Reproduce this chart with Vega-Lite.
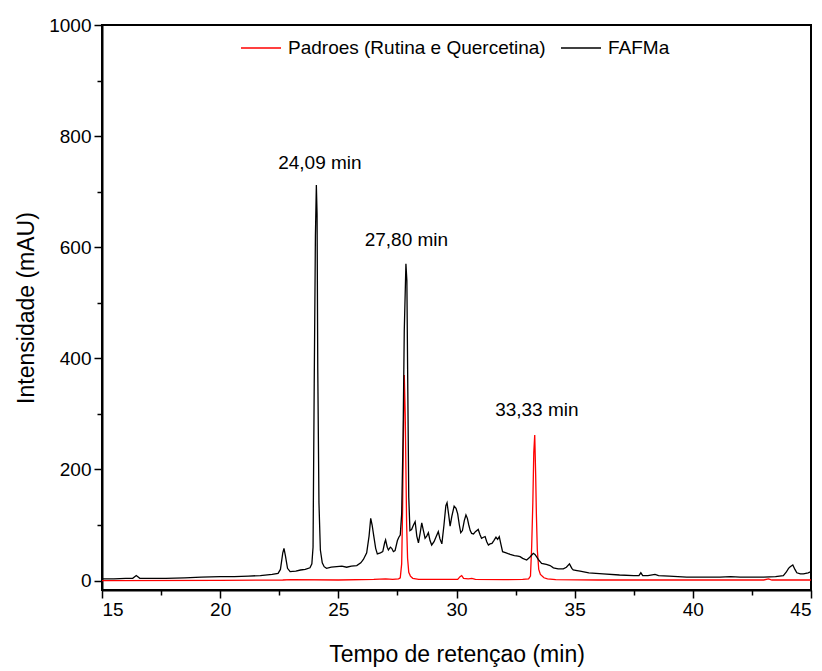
{
  "$schema": "https://vega.github.io/schema/vega-lite/v6.json",
  "width": 709,
  "height": 565,
  "autosize": "none",
  "padding": {"left": 102, "top": 25, "right": 11, "bottom": 81},
  "background": "white",
  "config": {
    "font": "Liberation Sans",
    "view": {"stroke": "#000000", "strokeWidth": 2},
    "axis": {"grid": false, "domainColor": "#000000", "tickColor": "#000000", "labelColor": "#000000", "titleColor": "#000000", "labelFont": "Liberation Sans", "titleFont": "Liberation Sans", "titleFontWeight": "normal"}
  },
  "datasets": {
    "padroes": [
      {"t": 15.0, "v": 0, "s": "Padroes (Rutina e Quercetina)"},
      {"t": 20.0, "v": 0.5, "s": "Padroes (Rutina e Quercetina)"},
      {"t": 22.65, "v": 1, "s": "Padroes (Rutina e Quercetina)"},
      {"t": 23.0, "v": 1.5, "s": "Padroes (Rutina e Quercetina)"},
      {"t": 25.0, "v": 1, "s": "Padroes (Rutina e Quercetina)"},
      {"t": 26.5, "v": 2, "s": "Padroes (Rutina e Quercetina)"},
      {"t": 27.0, "v": 3, "s": "Padroes (Rutina e Quercetina)"},
      {"t": 27.3, "v": 2, "s": "Padroes (Rutina e Quercetina)"},
      {"t": 27.55, "v": 3, "s": "Padroes (Rutina e Quercetina)"},
      {"t": 27.62, "v": 5, "s": "Padroes (Rutina e Quercetina)"},
      {"t": 27.68, "v": 30, "s": "Padroes (Rutina e Quercetina)"},
      {"t": 27.72, "v": 130, "s": "Padroes (Rutina e Quercetina)"},
      {"t": 27.75, "v": 250, "s": "Padroes (Rutina e Quercetina)"},
      {"t": 27.79, "v": 370, "s": "Padroes (Rutina e Quercetina)"},
      {"t": 27.83, "v": 300, "s": "Padroes (Rutina e Quercetina)"},
      {"t": 27.86, "v": 200, "s": "Padroes (Rutina e Quercetina)"},
      {"t": 27.89, "v": 100, "s": "Padroes (Rutina e Quercetina)"},
      {"t": 27.93, "v": 40, "s": "Padroes (Rutina e Quercetina)"},
      {"t": 27.98, "v": 15, "s": "Padroes (Rutina e Quercetina)"},
      {"t": 28.05, "v": 8, "s": "Padroes (Rutina e Quercetina)"},
      {"t": 28.15, "v": 4, "s": "Padroes (Rutina e Quercetina)"},
      {"t": 28.4, "v": 2, "s": "Padroes (Rutina e Quercetina)"},
      {"t": 29.5, "v": 2, "s": "Padroes (Rutina e Quercetina)"},
      {"t": 30.05, "v": 2, "s": "Padroes (Rutina e Quercetina)"},
      {"t": 30.15, "v": 7, "s": "Padroes (Rutina e Quercetina)"},
      {"t": 30.22, "v": 9, "s": "Padroes (Rutina e Quercetina)"},
      {"t": 30.3, "v": 4, "s": "Padroes (Rutina e Quercetina)"},
      {"t": 30.5, "v": 3, "s": "Padroes (Rutina e Quercetina)"},
      {"t": 30.65, "v": 4, "s": "Padroes (Rutina e Quercetina)"},
      {"t": 30.8, "v": 2, "s": "Padroes (Rutina e Quercetina)"},
      {"t": 32.0, "v": 1.5, "s": "Padroes (Rutina e Quercetina)"},
      {"t": 32.8, "v": 2, "s": "Padroes (Rutina e Quercetina)"},
      {"t": 33.05, "v": 3, "s": "Padroes (Rutina e Quercetina)"},
      {"t": 33.13, "v": 8, "s": "Padroes (Rutina e Quercetina)"},
      {"t": 33.18, "v": 60, "s": "Padroes (Rutina e Quercetina)"},
      {"t": 33.23, "v": 140, "s": "Padroes (Rutina e Quercetina)"},
      {"t": 33.27, "v": 230, "s": "Padroes (Rutina e Quercetina)"},
      {"t": 33.31, "v": 262, "s": "Padroes (Rutina e Quercetina)"},
      {"t": 33.35, "v": 190, "s": "Padroes (Rutina e Quercetina)"},
      {"t": 33.38, "v": 120, "s": "Padroes (Rutina e Quercetina)"},
      {"t": 33.42, "v": 55, "s": "Padroes (Rutina e Quercetina)"},
      {"t": 33.48, "v": 20, "s": "Padroes (Rutina e Quercetina)"},
      {"t": 33.55, "v": 11, "s": "Padroes (Rutina e Quercetina)"},
      {"t": 33.7, "v": 5, "s": "Padroes (Rutina e Quercetina)"},
      {"t": 33.85, "v": 3, "s": "Padroes (Rutina e Quercetina)"},
      {"t": 34.2, "v": 1.5, "s": "Padroes (Rutina e Quercetina)"},
      {"t": 36.0, "v": 1, "s": "Padroes (Rutina e Quercetina)"},
      {"t": 40.0, "v": 1, "s": "Padroes (Rutina e Quercetina)"},
      {"t": 43.0, "v": 1, "s": "Padroes (Rutina e Quercetina)"},
      {"t": 43.2, "v": 3, "s": "Padroes (Rutina e Quercetina)"},
      {"t": 43.35, "v": 1, "s": "Padroes (Rutina e Quercetina)"},
      {"t": 45.0, "v": 1, "s": "Padroes (Rutina e Quercetina)"}
    ],
    "fafma": [
      {"t": 15.0, "v": 3, "s": "FAFMa"},
      {"t": 15.5, "v": 3, "s": "FAFMa"},
      {"t": 16.0, "v": 4, "s": "FAFMa"},
      {"t": 16.3, "v": 4, "s": "FAFMa"},
      {"t": 16.45, "v": 9, "s": "FAFMa"},
      {"t": 16.6, "v": 4, "s": "FAFMa"},
      {"t": 17.0, "v": 4, "s": "FAFMa"},
      {"t": 17.7, "v": 4, "s": "FAFMa"},
      {"t": 18.5, "v": 5, "s": "FAFMa"},
      {"t": 19.2, "v": 6, "s": "FAFMa"},
      {"t": 20.0, "v": 7, "s": "FAFMa"},
      {"t": 20.6, "v": 7, "s": "FAFMa"},
      {"t": 21.2, "v": 8, "s": "FAFMa"},
      {"t": 21.7, "v": 9, "s": "FAFMa"},
      {"t": 22.2, "v": 11, "s": "FAFMa"},
      {"t": 22.45, "v": 13, "s": "FAFMa"},
      {"t": 22.55, "v": 20, "s": "FAFMa"},
      {"t": 22.65, "v": 50, "s": "FAFMa"},
      {"t": 22.7, "v": 58, "s": "FAFMa"},
      {"t": 22.76, "v": 45, "s": "FAFMa"},
      {"t": 22.85, "v": 22, "s": "FAFMa"},
      {"t": 22.96, "v": 16, "s": "FAFMa"},
      {"t": 23.2, "v": 17, "s": "FAFMa"},
      {"t": 23.4, "v": 19, "s": "FAFMa"},
      {"t": 23.6, "v": 20, "s": "FAFMa"},
      {"t": 23.8, "v": 23, "s": "FAFMa"},
      {"t": 23.88, "v": 30, "s": "FAFMa"},
      {"t": 23.93, "v": 60, "s": "FAFMa"},
      {"t": 23.98, "v": 355, "s": "FAFMa"},
      {"t": 24.03, "v": 620, "s": "FAFMa"},
      {"t": 24.07, "v": 712, "s": "FAFMa"},
      {"t": 24.1, "v": 660, "s": "FAFMa"},
      {"t": 24.13, "v": 380, "s": "FAFMa"},
      {"t": 24.18, "v": 140, "s": "FAFMa"},
      {"t": 24.24, "v": 55, "s": "FAFMa"},
      {"t": 24.32, "v": 32, "s": "FAFMa"},
      {"t": 24.4, "v": 25, "s": "FAFMa"},
      {"t": 24.5, "v": 22, "s": "FAFMa"},
      {"t": 24.7, "v": 24, "s": "FAFMa"},
      {"t": 24.93, "v": 25, "s": "FAFMa"},
      {"t": 25.15, "v": 26, "s": "FAFMa"},
      {"t": 25.35, "v": 24, "s": "FAFMa"},
      {"t": 25.55, "v": 26, "s": "FAFMa"},
      {"t": 25.78, "v": 27, "s": "FAFMa"},
      {"t": 25.95, "v": 32, "s": "FAFMa"},
      {"t": 26.06, "v": 38, "s": "FAFMa"},
      {"t": 26.2, "v": 50, "s": "FAFMa"},
      {"t": 26.3, "v": 80, "s": "FAFMa"},
      {"t": 26.37, "v": 112, "s": "FAFMa"},
      {"t": 26.43, "v": 100, "s": "FAFMa"},
      {"t": 26.5, "v": 80, "s": "FAFMa"},
      {"t": 26.58, "v": 58, "s": "FAFMa"},
      {"t": 26.65, "v": 48, "s": "FAFMa"},
      {"t": 26.78, "v": 50, "s": "FAFMa"},
      {"t": 26.88, "v": 52, "s": "FAFMa"},
      {"t": 26.96, "v": 68, "s": "FAFMa"},
      {"t": 27.0, "v": 73, "s": "FAFMa"},
      {"t": 27.07, "v": 60, "s": "FAFMa"},
      {"t": 27.12, "v": 55, "s": "FAFMa"},
      {"t": 27.2, "v": 60, "s": "FAFMa"},
      {"t": 27.26, "v": 58, "s": "FAFMa"},
      {"t": 27.33, "v": 52, "s": "FAFMa"},
      {"t": 27.4, "v": 54, "s": "FAFMa"},
      {"t": 27.5, "v": 72, "s": "FAFMa"},
      {"t": 27.56, "v": 78, "s": "FAFMa"},
      {"t": 27.62, "v": 82, "s": "FAFMa"},
      {"t": 27.68, "v": 120, "s": "FAFMa"},
      {"t": 27.74, "v": 260, "s": "FAFMa"},
      {"t": 27.79, "v": 450, "s": "FAFMa"},
      {"t": 27.86, "v": 570, "s": "FAFMa"},
      {"t": 27.9, "v": 540, "s": "FAFMa"},
      {"t": 27.94, "v": 340, "s": "FAFMa"},
      {"t": 27.98, "v": 150, "s": "FAFMa"},
      {"t": 28.03, "v": 90, "s": "FAFMa"},
      {"t": 28.1, "v": 92, "s": "FAFMa"},
      {"t": 28.18, "v": 100, "s": "FAFMa"},
      {"t": 28.25, "v": 106, "s": "FAFMa"},
      {"t": 28.32, "v": 80, "s": "FAFMa"},
      {"t": 28.39, "v": 68, "s": "FAFMa"},
      {"t": 28.46, "v": 85, "s": "FAFMa"},
      {"t": 28.53, "v": 104, "s": "FAFMa"},
      {"t": 28.6, "v": 90, "s": "FAFMa"},
      {"t": 28.67, "v": 76, "s": "FAFMa"},
      {"t": 28.74, "v": 80, "s": "FAFMa"},
      {"t": 28.81, "v": 86, "s": "FAFMa"},
      {"t": 28.88, "v": 72, "s": "FAFMa"},
      {"t": 28.95, "v": 64, "s": "FAFMa"},
      {"t": 29.05, "v": 70, "s": "FAFMa"},
      {"t": 29.15, "v": 80, "s": "FAFMa"},
      {"t": 29.23, "v": 88, "s": "FAFMa"},
      {"t": 29.3, "v": 75, "s": "FAFMa"},
      {"t": 29.38, "v": 66, "s": "FAFMa"},
      {"t": 29.47, "v": 100, "s": "FAFMa"},
      {"t": 29.55, "v": 135, "s": "FAFMa"},
      {"t": 29.6, "v": 140, "s": "FAFMa"},
      {"t": 29.67, "v": 118, "s": "FAFMa"},
      {"t": 29.73, "v": 98, "s": "FAFMa"},
      {"t": 29.8, "v": 115, "s": "FAFMa"},
      {"t": 29.9, "v": 134, "s": "FAFMa"},
      {"t": 29.98, "v": 130, "s": "FAFMa"},
      {"t": 30.05, "v": 120, "s": "FAFMa"},
      {"t": 30.12, "v": 100, "s": "FAFMa"},
      {"t": 30.18, "v": 86, "s": "FAFMa"},
      {"t": 30.25, "v": 90, "s": "FAFMa"},
      {"t": 30.33, "v": 108, "s": "FAFMa"},
      {"t": 30.4, "v": 118, "s": "FAFMa"},
      {"t": 30.46, "v": 112, "s": "FAFMa"},
      {"t": 30.52, "v": 100, "s": "FAFMa"},
      {"t": 30.58, "v": 90, "s": "FAFMa"},
      {"t": 30.64, "v": 85, "s": "FAFMa"},
      {"t": 30.72, "v": 84, "s": "FAFMa"},
      {"t": 30.8, "v": 88, "s": "FAFMa"},
      {"t": 30.92, "v": 92, "s": "FAFMa"},
      {"t": 31.0, "v": 82, "s": "FAFMa"},
      {"t": 31.06, "v": 76, "s": "FAFMa"},
      {"t": 31.14, "v": 78, "s": "FAFMa"},
      {"t": 31.21, "v": 79, "s": "FAFMa"},
      {"t": 31.28, "v": 70, "s": "FAFMa"},
      {"t": 31.35, "v": 64, "s": "FAFMa"},
      {"t": 31.42, "v": 66, "s": "FAFMa"},
      {"t": 31.5, "v": 67, "s": "FAFMa"},
      {"t": 31.58, "v": 72, "s": "FAFMa"},
      {"t": 31.67, "v": 78, "s": "FAFMa"},
      {"t": 31.74, "v": 74, "s": "FAFMa"},
      {"t": 31.81, "v": 79, "s": "FAFMa"},
      {"t": 31.88, "v": 65, "s": "FAFMa"},
      {"t": 31.95, "v": 52, "s": "FAFMa"},
      {"t": 32.1, "v": 50, "s": "FAFMa"},
      {"t": 32.27, "v": 47, "s": "FAFMa"},
      {"t": 32.45, "v": 45, "s": "FAFMa"},
      {"t": 32.6, "v": 44, "s": "FAFMa"},
      {"t": 32.69, "v": 43, "s": "FAFMa"},
      {"t": 32.8, "v": 40, "s": "FAFMa"},
      {"t": 32.97, "v": 37, "s": "FAFMa"},
      {"t": 33.1, "v": 42, "s": "FAFMa"},
      {"t": 33.25, "v": 49, "s": "FAFMa"},
      {"t": 33.32, "v": 47, "s": "FAFMa"},
      {"t": 33.4, "v": 42, "s": "FAFMa"},
      {"t": 33.46, "v": 38, "s": "FAFMa"},
      {"t": 33.6, "v": 31, "s": "FAFMa"},
      {"t": 33.8, "v": 29, "s": "FAFMa"},
      {"t": 33.96, "v": 27, "s": "FAFMa"},
      {"t": 34.1, "v": 23, "s": "FAFMa"},
      {"t": 34.3, "v": 21, "s": "FAFMa"},
      {"t": 34.52, "v": 21, "s": "FAFMa"},
      {"t": 34.65, "v": 24, "s": "FAFMa"},
      {"t": 34.78, "v": 30, "s": "FAFMa"},
      {"t": 34.88, "v": 22, "s": "FAFMa"},
      {"t": 34.94, "v": 19, "s": "FAFMa"},
      {"t": 35.1, "v": 18, "s": "FAFMa"},
      {"t": 35.23, "v": 17, "s": "FAFMa"},
      {"t": 35.6, "v": 14, "s": "FAFMa"},
      {"t": 36.2, "v": 12, "s": "FAFMa"},
      {"t": 36.9, "v": 10, "s": "FAFMa"},
      {"t": 37.5, "v": 9, "s": "FAFMa"},
      {"t": 37.72, "v": 9, "s": "FAFMa"},
      {"t": 37.8, "v": 14, "s": "FAFMa"},
      {"t": 37.88, "v": 9, "s": "FAFMa"},
      {"t": 38.1, "v": 9, "s": "FAFMa"},
      {"t": 38.4, "v": 11, "s": "FAFMa"},
      {"t": 38.55, "v": 9, "s": "FAFMa"},
      {"t": 39.0, "v": 8, "s": "FAFMa"},
      {"t": 39.74, "v": 6, "s": "FAFMa"},
      {"t": 40.5, "v": 6, "s": "FAFMa"},
      {"t": 41.15, "v": 6, "s": "FAFMa"},
      {"t": 41.6, "v": 7, "s": "FAFMa"},
      {"t": 42.0, "v": 6, "s": "FAFMa"},
      {"t": 42.5, "v": 6, "s": "FAFMa"},
      {"t": 43.0, "v": 6, "s": "FAFMa"},
      {"t": 43.5, "v": 7, "s": "FAFMa"},
      {"t": 43.83, "v": 9, "s": "FAFMa"},
      {"t": 43.95, "v": 15, "s": "FAFMa"},
      {"t": 44.05, "v": 22, "s": "FAFMa"},
      {"t": 44.12, "v": 25, "s": "FAFMa"},
      {"t": 44.23, "v": 28, "s": "FAFMa"},
      {"t": 44.32, "v": 20, "s": "FAFMa"},
      {"t": 44.4, "v": 14, "s": "FAFMa"},
      {"t": 44.55, "v": 12, "s": "FAFMa"},
      {"t": 44.68, "v": 12, "s": "FAFMa"},
      {"t": 44.88, "v": 14, "s": "FAFMa"},
      {"t": 45.0, "v": 16, "s": "FAFMa"}
    ],
    "labels": [
      {"t": 24.22, "v": 752, "label": "24,09 min"},
      {"t": 27.88, "v": 613, "label": "27,80 min"},
      {"t": 33.4, "v": 307, "label": "33,33 min"}
    ]
  },
  "layer": [
    {
      "data": {"name": "padroes"},
      "mark": {"type": "line", "strokeWidth": 1.3, "clip": true},
      "encoding": {
        "x": {"field": "t", "type": "quantitative", "scale": {"domain": [15, 45], "nice": false, "zero": false},
          "axis": {"values": [15, 20, 25, 30, 35, 40, 45], "format": "d", "tickSize": 8, "tickWidth": 1.5, "domainWidth": 2, "labelFontSize": 19, "labelPadding": 2, "title": "Tempo de retençao (min)", "titleFontSize": 23, "titlePadding": 24, "orient": "bottom"}},
        "y": {"field": "v", "type": "quantitative", "scale": {"domain": [-17, 1000], "nice": false, "zero": false},
          "axis": {"values": [0, 200, 400, 600, 800, 1000], "format": "d", "tickSize": 8, "tickWidth": 1.5, "domainWidth": 2, "labelFontSize": 19, "labelPadding": 3, "title": "Intensidade (mAU)", "titleFontSize": 23, "titlePadding": 10, "orient": "left"}},
        "color": {"field": "s", "type": "nominal",
          "scale": {"domain": ["Padroes (Rutina e Quercetina)", "FAFMa"], "range": ["#ff0000", "#000000"]},
          "legend": {"title": null, "orient": "none", "legendX": 138, "legendY": 2, "direction": "horizontal", "symbolType": "stroke", "symbolSize": 1600, "symbolStrokeWidth": 1.5, "labelFontSize": 19, "labelLimit": 0, "labelFont": "Liberation Sans", "labelColor": "#000000", "labelOffset": 6, "columnPadding": 12}}
      }
    },
    {
      "data": {"name": "fafma"},
      "mark": {"type": "line", "strokeWidth": 1.3, "clip": true},
      "encoding": {
        "x": {"field": "t", "type": "quantitative",
          "axis": {"values": [17.5, 22.5, 27.5, 32.5, 37.5, 42.5], "labels": false, "domain": false, "tickSize": 5, "tickWidth": 1.5, "title": null, "orient": "bottom"}},
        "y": {"field": "v", "type": "quantitative",
          "axis": {"values": [100, 300, 500, 700, 900], "labels": false, "domain": false, "tickSize": 5, "tickWidth": 1.5, "title": null, "orient": "left"}},
        "color": {"field": "s", "type": "nominal"}
      }
    },
    {
      "data": {"name": "labels"},
      "mark": {"type": "text", "fontSize": 19, "font": "Liberation Sans", "color": "#000000", "align": "center", "baseline": "middle"},
      "encoding": {
        "x": {"field": "t", "type": "quantitative", "axis": null},
        "y": {"field": "v", "type": "quantitative", "axis": null},
        "text": {"field": "label"}
      }
    }
  ],
  "resolve": {"axis": {"x": "independent", "y": "independent"}}
}
